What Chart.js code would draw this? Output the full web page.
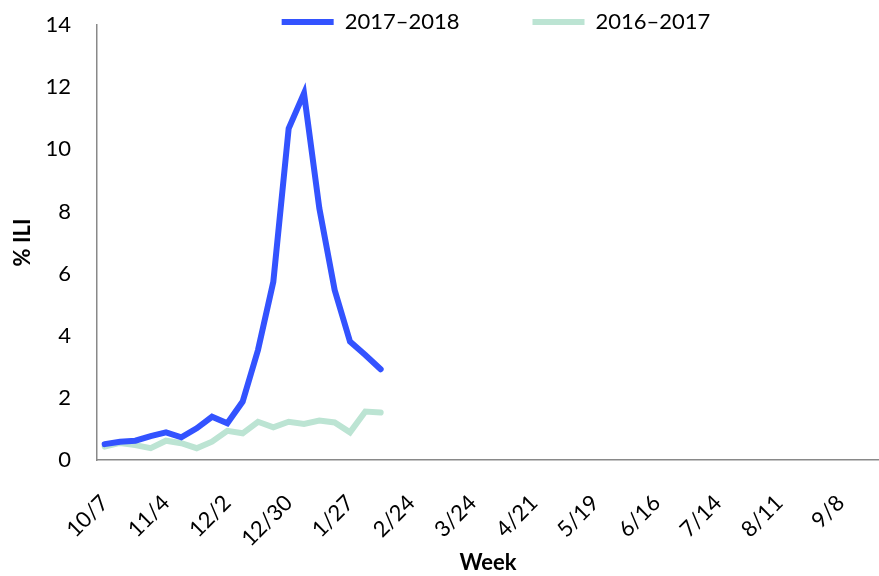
<!DOCTYPE html>
<html>
<head>
<meta charset="utf-8">
<script src="https://cdn.jsdelivr.net/npm/chart.js@4/dist/chart.umd.min.js"></script>
<style>
  html, body { margin: 0; padding: 0; background: #fff; }
  #wrap { width: 879px; height: 576px; }
</style>
</head>
<body>
<div id="wrap"><canvas id="GraficoILI"></canvas></div>
<script>
// weeks of the season, starting 10/7
var semanas = ['10/7', '10/14', '10/21', '10/28', '11/4', '11/11', '11/18', '11/25',
    '12/2', '12/9', '12/16', '12/23', '12/30', '1/6', '1/13', '1/20', '1/27', '2/3',
    '2/10', '2/17', '2/24', '3/3', '3/10', '3/17', '3/24', '3/31', '4/7', '4/14',
    '4/21', '4/28', '5/5', '5/12', '5/19', '5/26', '6/2', '6/9', '6/16', '6/23',
    '6/30', '7/7', '7/14', '7/21', '7/28', '8/4', '8/11', '8/18', '8/25', '9/1',
    '9/8', '9/15', '9/22'];

var temporada1718 = [0.51, 0.59, 0.62, 0.77, 0.89, 0.73, 1.02, 1.39, 1.18, 1.88,
    3.54, 5.74, 10.67, 11.80, 8.10, 5.47, 3.81, 3.38, 2.92];

var temporada1617 = [0.43, 0.55, 0.48, 0.38, 0.62, 0.54, 0.38, 0.59, 0.94, 0.86,
    1.23, 1.05, 1.23, 1.16, 1.27, 1.21, 0.89, 1.56, 1.53];

var yTicks = [0, 2, 4, 6, 8, 10, 12, 14];

var fonte = 'Lato, "Liberation Sans", sans-serif';
var corEixo = '#898989';
var transparente = 'rgba(0,0,0,0)';

// legend sits closer to the plot than Chart.js allows, so draw it without clipping
var ajusteLegenda = {
    id: 'ajusteLegenda',
    afterInit: function (chart) {
        chart.legend.draw = function () {
            if (this.options.display) this._draw();
        };
    },
    afterLayout: function (chart) {
        chart.legend.left += 8;
        chart.legend.right += 8;
    }
};

var ctx = document.getElementById('GraficoILI').getContext('2d');

var grafico = new Chart(ctx, {
    type: 'line',
    data: {
        labels: semanas,
        datasets: [
            {
                label: '2017\u20132018',
                data: temporada1718,
                borderColor: '#3353ff',
                backgroundColor: '#3353ff',
                borderWidth: 6,
                borderCapStyle: 'round',
                borderJoinStyle: 'miter',
                pointRadius: 0,
                pointStyle: 'line',
                tension: 0,
                fill: false
            },
            {
                label: '2016\u20132017',
                data: temporada1617,
                borderColor: '#bce4d3',
                backgroundColor: '#bce4d3',
                borderWidth: 6,
                borderCapStyle: 'round',
                borderJoinStyle: 'miter',
                pointRadius: 0,
                pointStyle: 'line',
                tension: 0,
                fill: false
            }
        ]
    },
    plugins: [ajusteLegenda],
    options: {
        responsive: true,
        maintainAspectRatio: false,
        animation: false,
        layout: {
            padding: { top: -62, left: 0, right: 0, bottom: 0 }
        },
        plugins: {
            tooltip: { enabled: false },
            legend: {
                display: true,
                position: 'top',
                fullSize: false,
                maxHeight: 87,
                labels: {
                    usePointStyle: true,
                    pointStyleWidth: 52,
                    padding: 73,
                    color: '#000',
                    font: { family: fonte, size: 22 }
                }
            }
        },
        scales: {
            x: {
                type: 'category',
                offset: true,
                afterFit: function (escala) {
                    escala.height = 116;
                    escala.paddingLeft = 0;
                    escala.paddingRight = 0;
                },
                grid: {
                    display: true,
                    drawOnChartArea: false,
                    drawTicks: true,
                    tickLength: 30,
                    color: transparente,
                    tickColor: transparente
                },
                border: { display: true, color: corEixo, width: 1.5 },
                ticks: {
                    autoSkip: false,
                    minRotation: 45,
                    maxRotation: 45,
                    padding: 0,
                    color: '#000',
                    font: { family: fonte, size: 22 },
                    callback: function (valor, indice) {
                        return indice % 4 === 0 ? semanas[indice] : null;
                    }
                },
                title: {
                    display: true,
                    text: 'Week',
                    color: '#000',
                    font: { family: fonte, size: 22, weight: 'bold' },
                    padding: { top: 0, bottom: 0 }
                }
            },
            y: {
                min: 0,
                max: 14,
                afterFit: function (escala) {
                    escala.width = 97;
                    escala.paddingTop = 0;
                    escala.paddingBottom = 0;
                },
                afterBuildTicks: function (escala) {
                    escala.ticks = yTicks.map(function (v) { return { value: v }; });
                },
                grid: { display: true, drawOnChartArea: false, drawTicks: false, color: transparente },
                border: { display: true, color: corEixo, width: 1.5 },
                ticks: {
                    padding: 26,
                    color: '#000',
                    font: { family: fonte, size: 22 }
                },
                title: {
                    display: true,
                    text: '% ILI',
                    color: '#000',
                    font: { family: fonte, size: 22, weight: 'bold' },
                    padding: { top: 10, bottom: 0 }
                }
            }
        }
    }
});
</script>
</body>
</html>
